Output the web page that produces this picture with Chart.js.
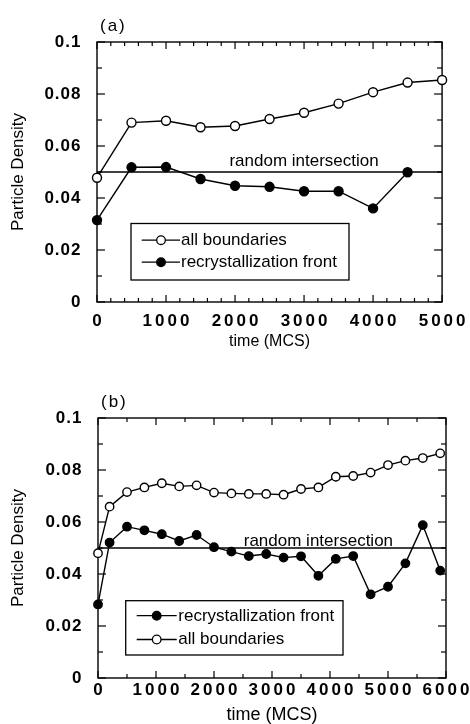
<!DOCTYPE html>
<html><head><meta charset="utf-8">
<script src="https://cdn.jsdelivr.net/npm/chart.js@4"></script>
<style>
html,body{margin:0;padding:0;background:#fff;}
.wrap{position:absolute;left:0;width:470px;height:362px;}
</style></head>
<body>
<div class="wrap" style="top:0"><canvas id="chartA" width="470" height="362"></canvas></div>
<div class="wrap" style="top:362px"><canvas id="chartB" width="470" height="362"></canvas></div>
<script>
// ---------- data ----------
const timeA = [0, 500, 1000, 1500, 2000, 2500, 3000, 3500, 4000, 4500, 5000];
const allBoundariesA = [0.0478, 0.0690, 0.0697, 0.0672, 0.0677, 0.0704, 0.0728, 0.0763, 0.0807, 0.0844, 0.0854];
const timeFrontA = [0, 500, 1000, 1500, 2000, 2500, 3000, 3500, 4000, 4500];
const frontA = [0.0315, 0.0518, 0.0519, 0.0473, 0.0447, 0.0443, 0.0426, 0.0426, 0.0360, 0.0499];

const timeB = [0, 200, 500, 800, 1100, 1400, 1700, 2000, 2300, 2600, 2900, 3200, 3500, 3800, 4100, 4400, 4700, 5000, 5300, 5600, 5900];
const allBoundariesB = [0.0480, 0.0659, 0.0715, 0.0733, 0.0749, 0.0737, 0.0741, 0.0713, 0.0710, 0.0708, 0.0708, 0.0705, 0.0727, 0.0733, 0.0774, 0.0777, 0.0790, 0.0819, 0.0836, 0.0846, 0.0864];
const frontB = [0.0283, 0.0521, 0.0582, 0.0568, 0.0553, 0.0527, 0.0550, 0.0503, 0.0486, 0.0469, 0.0477, 0.0463, 0.0468, 0.0393, 0.0458, 0.0469, 0.0322, 0.0351, 0.0441, 0.0588, 0.0413];

const randomIntersection = 0.05;

const yTicks = [0, 0.02, 0.04, 0.06, 0.08, 0.1];
const yTickLabels = ['0', '0.02', '0.04', '0.06', '0.08', '0.1'];
const xTicksA = [0, 1000, 2000, 3000, 4000, 5000];
const xTickLabelsA = ['0', '1000', '2000', '3000', '4000', '5000'];
const xTicksB = [0, 1000, 2000, 3000, 4000, 5000, 6000];
const xTickLabelsB = ['0', '1000', '2000', '3000', '4000', '5000', '6000'];

const nameAll = 'all boundaries';
const nameFront = 'recrystallization front';
const nameRandom = 'random intersection';
const xTitle = 'time (MCS)';
const yTitle = 'Particle Density';

// ---------- helpers ----------
const FAM = '"Liberation Sans", Arial, Helvetica, sans-serif';
Chart.defaults.color = '#000';
Chart.defaults.font.family = FAM;

const pts = (xs, ys) => xs.map((x, i) => ({x, y: ys[i]}));

function seriesStyle(filled, r) {
  return {
    borderColor: '#000', borderWidth: 1.4, tension: 0, fill: false, clip: false,
    pointRadius: r, pointHoverRadius: r, pointBorderWidth: 1.4,
    pointBorderColor: '#000', pointBackgroundColor: filled ? '#000' : '#fff'
  };
}

const framePlugin = {
  id: 'frame',
  beforeDraw(chart, args, o) {
    ['x', 'y'].forEach(id => {
      const s = chart.scales[id];
      if (s && !s._spPatched) {
        const orig = s.drawLabels.bind(s);
        const sp = id === 'x' ? o.xSpacing : o.ySpacing;
        s.drawLabels = function (area) {
          const c = this.ctx;
          c.save();
          c.letterSpacing = sp + 'px';
          if (id === 'x') c.translate(sp / 2, 0); else c.translate(sp, 0);
          orig(area);
          c.restore();
        };
        s._spPatched = true;
      }
    });
  },
  beforeDatasetsDraw(chart, args, o) {
    const {ctx, chartArea: {left, right, top, bottom}, scales: {x, y}} = chart;
    ctx.save();
    ctx.strokeStyle = '#000';
    ctx.lineWidth = 1.4;
    ctx.strokeRect(left, top, right - left, bottom - top);
    ctx.lineWidth = 1.2;
    const seg = (x1, y1, x2, y2) => { ctx.beginPath(); ctx.moveTo(x1, y1); ctx.lineTo(x2, y2); ctx.stroke(); };
    const nx = Math.round((x.max - x.min) / o.xMinor);
    for (let i = 0; i <= nx; i++) {
      const v = x.min + i * o.xMinor;
      const px = x.getPixelForValue(v);
      const r = v / o.xMajor;
      const len = Math.abs(r - Math.round(r)) < 1e-6 ? 7 : 4;
      seg(px, bottom, px, bottom - len);
      seg(px, top, px, top + len);
    }
    const ny = Math.round((y.max - y.min) / o.yMinor);
    for (let i = 0; i <= ny; i++) {
      const v = y.min + i * o.yMinor;
      const py = y.getPixelForValue(v);
      const r = v / o.yMajor;
      const len = Math.abs(r - Math.round(r)) < 1e-6 ? 8 : 5;
      seg(left, py, left + len, py);
      seg(right, py, right - len, py);
    }
    ctx.restore();
  },
  afterDraw(chart, args, o) {
    const {ctx, scales: {x, y}} = chart;
    ctx.save();
    // panel label
    ctx.fillStyle = '#000';
    ctx.font = '17px ' + FAM;
    ctx.letterSpacing = '2px';
    ctx.textAlign = 'left';
    ctx.textBaseline = 'alphabetic';
    ctx.fillText(o.panel, o.panelX, o.panelY);
    ctx.letterSpacing = '0px';
    // random intersection label
    ctx.font = '17px ' + FAM;
    ctx.textAlign = 'center';
    ctx.fillText(nameRandom, x.getPixelForValue(o.randomLabelX), y.getPixelForValue(randomIntersection) - o.randomLabelDy);
    // legend
    const L = o.legend;
    ctx.fillStyle = '#fff';
    ctx.fillRect(L.x, L.y, L.w, L.h);
    ctx.strokeStyle = '#000';
    ctx.lineWidth = 1.3;
    ctx.strokeRect(L.x, L.y, L.w, L.h);
    L.rows.forEach((row, i) => {
      const ds = chart.data.datasets[row];
      const by = L.baselines[i];
      const my = by - 4.8;
      ctx.strokeStyle = '#000';
      ctx.lineWidth = 1.3;
      ctx.beginPath(); ctx.moveTo(L.lineX1, my); ctx.lineTo(L.lineX2, my); ctx.stroke();
      ctx.beginPath(); ctx.arc(L.markX, my, L.markR, 0, Math.PI * 2);
      ctx.fillStyle = ds.pointBackgroundColor; ctx.fill(); ctx.stroke();
      ctx.fillStyle = '#000';
      ctx.font = '17px ' + FAM;
      ctx.textAlign = 'left';
      ctx.textBaseline = 'alphabetic';
      ctx.fillText(ds.label, L.textX, by);
    });
    ctx.restore();
  }
};

function makeChart(id, p) {
  return new Chart(document.getElementById(id), {
    type: 'line',
    data: {
      datasets: [
        Object.assign({label: nameAll, data: pts(p.timeAll, p.all)}, seriesStyle(false, p.r)),
        Object.assign({label: nameFront, data: pts(p.timeFront, p.front)}, seriesStyle(true, p.r)),
        {label: nameRandom, data: [{x: p.xTicks[0], y: randomIntersection}, {x: p.xTicks[p.xTicks.length - 1], y: randomIntersection}],
         borderColor: '#000', borderWidth: 1.3, pointRadius: 0, fill: false, clip: false}
      ]
    },
    options: {
      responsive: false, animation: false, events: [],
      layout: {padding: p.pad},
      scales: {
        x: {
          type: 'linear', min: p.xTicks[0], max: p.xTicks[p.xTicks.length - 1],
          afterBuildTicks: s => { s.ticks = p.xTicks.map(v => ({value: v})); },
          afterFit: s => { s.height = p.xHeight; },
          ticks: {font: {size: 17, weight: 'bold'}, padding: p.xPad, maxRotation: 0, autoSkip: false,
                  callback: v => p.xLabels[p.xTicks.indexOf(v)]},
          grid: {display: false, drawTicks: false, tickLength: 0},
          border: {display: false},
          title: {display: true, text: xTitle, font: {size: p.xTitleSize, lineHeight: 1}, padding: {top: 0, bottom: p.xTitlePad}}
        },
        y: {
          type: 'linear', min: 0, max: 0.1,
          afterBuildTicks: s => { s.ticks = yTicks.map(v => ({value: v})); },
          afterFit: s => { s.width = p.yWidth; },
          ticks: {font: {size: 17, weight: 'bold'}, padding: p.yPad, autoSkip: false,
                  callback: (v, i) => yTickLabels[i]},
          grid: {display: false, drawTicks: false, tickLength: 0},
          border: {display: false},
          title: {display: true, text: yTitle, font: {size: 17, lineHeight: 1}, padding: {top: 9.5, bottom: 0}}
        }
      },
      plugins: {
        legend: {display: false},
        tooltip: {enabled: false},
        frame: p.frame
      }
    },
    plugins: [framePlugin]
  });
}

makeChart('chartA', {
  timeAll: timeA, all: allBoundariesA, timeFront: timeFrontA, front: frontA,
  xTicks: xTicksA, xLabels: xTickLabelsA, r: 4.5,
  pad: {top: 42, right: 25, bottom: 10, left: 0},
  xHeight: 50, yWidth: 97, xPad: 9, yPad: 16.5, xTitleSize: 16, xTitlePad: 2,
  frame: {
    xMajor: 1000, xMinor: 200, yMajor: 0.02, yMinor: 0.01, xSpacing: 3, ySpacing: 1,
    panel: '(a)', panelX: 100, panelY: 31,
    randomLabelX: 3000, randomLabelDy: 6.5,
    legend: {x: 131, y: 223.5, w: 218, h: 56.5, rows: [0, 1], baselines: [245, 267],
             lineX1: 141.7, lineX2: 180, markX: 161, markR: 4.3, textX: 181}
  }
});

makeChart('chartB', {
  timeAll: timeB, all: allBoundariesB, timeFront: timeB, front: frontB,
  xTicks: xTicksB, xLabels: xTickLabelsB, r: 4.2,
  pad: {top: 56, right: 24, bottom: 0, left: 0},
  xHeight: 46, yWidth: 98, xPad: 2.5, yPad: 16.5, xTitleSize: 18, xTitlePad: 0,
  frame: {
    xMajor: 1000, xMinor: 500, yMajor: 0.02, yMinor: 0.01, xSpacing: 3, ySpacing: 1,
    panel: '(b)', panelX: 101, panelY: 45,
    randomLabelX: 3800, randomLabelDy: 2.5,
    legend: {x: 125.7, y: 238.7, w: 217.3, h: 54.3, rows: [1, 0], baselines: [258.5, 282.3],
             lineX1: 136.7, lineX2: 176.7, markX: 156.7, markR: 4.3, textX: 178.3}
  }
});
</script>
</body></html>
